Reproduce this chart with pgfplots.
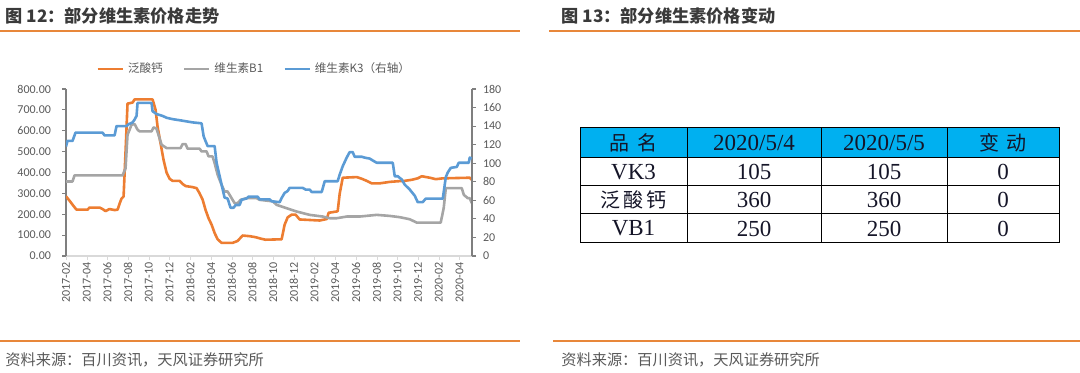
\documentclass[border=0pt]{standalone}
\usepackage{fontspec}
\setmainfont{Carlito}
\newfontfamily\cjk{Noto Sans CJK SC}
\newfontfamily\tms{Liberation Serif}
\usepackage{pgfplots}
\pgfplotsset{compat=1.18}
\definecolor{cOr}{HTML}{ED7D31}
\definecolor{cGr}{HTML}{A5A5A5}
\definecolor{cBl}{HTML}{5B9BD5}
\definecolor{cTk}{HTML}{595959}
\definecolor{cAx}{HTML}{7F7F7F}
\definecolor{cTitle}{HTML}{3A3A3A}
\definecolor{cRule}{HTML}{E8873A}
\definecolor{cCyan}{HTML}{00B0F0}
\definecolor{cTab}{HTML}{151528}

\pgfplotstableread{
m v
0 286
0.34 265
0.72 240
1.01 222
2.08 222
2.27 232
3.24 232
3.53 225
3.82 215
4.20 225
4.69 220
4.98 222
5.17 250
5.36 275
5.56 285
5.75 500
5.94 730
6.43 735
6.62 750
8.36 750
8.65 700
8.84 620
9.13 540
9.42 460
9.71 400
10.00 370
10.29 360
10.97 360
11.26 345
11.55 335
12.22 330
12.61 325
12.90 300
13.19 270
13.48 220
13.77 180
14.06 150
14.35 110
14.64 80
15.02 63
16.09 63
16.57 72
17.05 98
17.73 95
18.31 90
18.89 82
19.27 78
20.82 80
21.11 150
21.40 185
21.79 198
22.17 198
22.56 175
24.49 170
25.17 177
25.36 207
26.23 214
26.43 300
26.72 375
28.07 378
28.55 370
28.94 362
29.52 348
30.29 348
31.26 355
32.03 358
32.70 360
33.38 365
33.96 372
34.35 382
35.12 375
35.70 368
36.38 372
38.98 375
39.18 365
}\calcium

\pgfplotstableread{
m v
0 357
0.63 357
0.82 386
5.46 386
5.75 420
5.94 580
6.33 629
6.62 632
6.91 605
7.10 597
8.26 597
8.45 616
8.74 610
9.23 533
9.71 517
11.06 517
11.26 536
11.55 536
11.74 514
12.90 514
13.09 501
13.57 501
13.77 477
14.15 477
14.35 445
14.64 389
15.02 341
15.31 309
15.60 309
15.99 277
16.28 253
16.57 253
16.86 269
17.44 277
18.41 277
18.70 269
19.95 262
20.34 245
21.30 229
22.27 213
23.53 197
24.78 189
25.46 181
26.14 181
27.10 189
28.36 189
30.00 197
31.26 192
32.22 186
33.19 176
33.86 160
36.18 160
36.47 230
36.67 325
38.21 325
38.41 293
38.79 277
38.98 277
39.18 253
}\vbone

\pgfplotstableread{
m v
0 118
0.14 124
0.63 124
0.92 133
3.53 133
3.72 130
4.69 130
4.88 140
5.85 140
6.04 142
6.43 144
6.62 147
6.81 151
6.91 165
8.26 165
8.36 156
8.74 153
9.32 151
9.71 149
10.29 147.5
11.16 146
12.22 144
13.09 143
13.29 129
13.67 118.5
14.35 118.5
14.54 100.5
15.02 77
15.31 63
15.60 62
15.89 52
16.18 52
16.38 55
16.76 55
16.96 60.7
17.44 62
17.63 64
18.50 64
18.70 61
19.66 61
19.86 59
20.63 58
20.82 62.5
21.11 68
21.40 70
21.59 73.4
22.85 73.4
23.14 71.6
23.53 71.6
23.72 69
24.69 69
24.98 80.6
26.23 80.6
26.43 87.8
26.72 96.8
27.10 106
27.39 112
27.68 112
27.87 107
28.55 107
28.84 106
29.32 105
29.61 103
30.00 100.5
31.55 100.5
31.74 86
32.03 86
32.42 82.4
32.70 77
33.19 71.6
33.67 65
33.96 58
34.44 58
34.73 61.8
36.38 61.8
36.67 85
36.86 90
37.15 95
37.73 96
37.92 100.5
38.89 100.5
38.98 106
39.18 105
}\vkthree

\begin{document}
\begin{tikzpicture}[x=1pt,y=1pt]
\path[use as bounding box] (0,0) rectangle (540,186.5);

% titles and rules
\node[anchor=west, inner sep=0, text=cTitle] at (2.5,178.5) {\cjk\bfseries\fontsize{8.6}{10}\selectfont 图 12：部分维生素价格走势};
\node[anchor=west, inner sep=0, text=cTitle] at (280.5,178.5) {\cjk\bfseries\fontsize{8.6}{10}\selectfont 图 13：部分维生素价格变动};
\draw[cRule, line width=0.9pt] (0,171) -- (260,171);
\draw[cRule, line width=0.9pt] (274.5,171) -- (540,171);
\draw[cRule, line width=0.9pt] (0,16) -- (260,16);
\draw[cRule, line width=0.9pt] (276.5,16) -- (540,16);
\node[anchor=west, inner sep=0, text=cTk] at (2.5,6.5) {\cjk\fontsize{7.6}{9}\selectfont 资料来源：百川资讯，天风证券研究所};
\node[anchor=west, inner sep=0, text=cTk] at (280.5,6.5) {\cjk\fontsize{7.6}{9}\selectfont 资料来源：百川资讯，天风证券研究所};

% left axis
\begin{axis}[
  at={(33pt,58.5pt)}, anchor=south west, scale only axis,
  width=203pt, height=83.5pt,
  xmin=0, xmax=39.2, ymin=0, ymax=800,
  axis x line*=bottom, axis y line*=left,
  x axis line style={draw=black!15, line width=0.6pt},
  y axis line style={draw=cAx, line width=0.6pt},
  tick align=outside,
  major tick length=2pt,
  xtick={0,2,...,38},
  xticklabels={2017-02,2017-04,2017-06,2017-08,2017-10,2017-12,2018-02,2018-04,2018-06,2018-08,2018-10,2018-12,2019-02,2019-04,2019-06,2019-08,2019-10,2019-12,2020-02,2020-04},
  xticklabel style={rotate=90, anchor=east, font=\fontsize{6}{7}\selectfont, text=cTk, inner sep=1pt},
  x tick style={draw=black!15},
  ytick={0,100,...,800},
  y tick style={draw=cAx, line width=0.6pt},
  yticklabel style={font=\fontsize{6}{7}\selectfont, text=cTk, xshift=-2pt},
  /pgf/number format/.cd, fixed, fixed zerofill, precision=2, assume math mode=true, 1000 sep={},
]
\addplot[cOr, line width=1.3pt, line join=round, mark=none] table[x=m,y=v] {\calcium};
\addplot[cGr, line width=1.3pt, line join=round, mark=none] table[x=m,y=v] {\vbone};
\end{axis}

% right axis
\begin{axis}[
  at={(33pt,58.5pt)}, anchor=south west, scale only axis,
  width=203pt, height=83.5pt,
  xmin=0, xmax=39.2, ymin=0, ymax=180,
  hide x axis,
  axis y line*=right,
  y axis line style={draw=cAx, line width=0.6pt},
  tick align=outside,
  major tick length=2pt,
  ytick={0,20,...,180},
  y tick style={draw=cAx, line width=0.6pt},
  yticklabel style={font=\fontsize{6}{7}\selectfont, text=cTk},
  legend columns=3,
  legend style={at={(0.466,1.12)}, anchor=center, draw=none, fill=none,
    font=\cjk\fontsize{5.8}{7}\selectfont, text=cTk,
    /tikz/every even column/.append style={column sep=8pt}},
  legend image code/.code={\draw[#1] (0pt,0pt) -- (12.5pt,0pt);},
  /pgf/number format/.cd, fixed, precision=0, assume math mode=true,
]
\addlegendimage{cOr, line width=1.3pt}
\addlegendentry{泛酸钙}
\addlegendimage{cGr, line width=1.3pt}
\addlegendentry{维生素B1}
\addplot[cBl, line width=1.3pt, line join=round, mark=none] table[x=m,y=v] {\vkthree};
\addlegendentry{维生素K3（右轴）}
\end{axis}

% table
\fill[cCyan] (290,107.5) rectangle (529.5,122.5);
\draw[black, line width=0.5pt] (290,65) rectangle (529.5,122.5);
\foreach \yy in {107.5,93.5,79.5} \draw[black, line width=0.5pt] (290,\yy) -- (529.5,\yy);
\foreach \xx in {343.5,410.5,473.5} \draw[black, line width=0.5pt] (\xx,65) -- (\xx,122.5);
\begin{scope}[every node/.style={inner sep=0, text=cTab}]
\node at (316.75,115) {\cjk\fontsize{10}{12}\selectfont 品\hspace{0.4em}名};
\node at (377,115) {\tms\fontsize{11.5}{13}\selectfont 2020/5/4};
\node at (442,115) {\tms\fontsize{11.5}{13}\selectfont 2020/5/5};
\node at (501.5,115) {\cjk\fontsize{10}{12}\selectfont 变\hspace{0.4em}动};
\node at (316.75,100.5) {\tms\fontsize{11.5}{13}\selectfont VK3};
\node at (377,100.5) {\tms\fontsize{11.5}{13}\selectfont 105};
\node at (442,100.5) {\tms\fontsize{11.5}{13}\selectfont 105};
\node at (501.5,100.5) {\tms\fontsize{11.5}{13}\selectfont 0};
\node at (316.75,86.5) {\cjk\fontsize{10}{12}\selectfont 泛\hspace{0.15em}酸\hspace{0.15em}钙};
\node at (377,86.5) {\tms\fontsize{11.5}{13}\selectfont 360};
\node at (442,86.5) {\tms\fontsize{11.5}{13}\selectfont 360};
\node at (501.5,86.5) {\tms\fontsize{11.5}{13}\selectfont 0};
\node at (316.75,72.25) {\tms\fontsize{11.5}{13}\selectfont VB1};
\node at (377,72.25) {\tms\fontsize{11.5}{13}\selectfont 250};
\node at (442,72.25) {\tms\fontsize{11.5}{13}\selectfont 250};
\node at (501.5,72.25) {\tms\fontsize{11.5}{13}\selectfont 0};
\end{scope}
\end{tikzpicture}
\end{document}
